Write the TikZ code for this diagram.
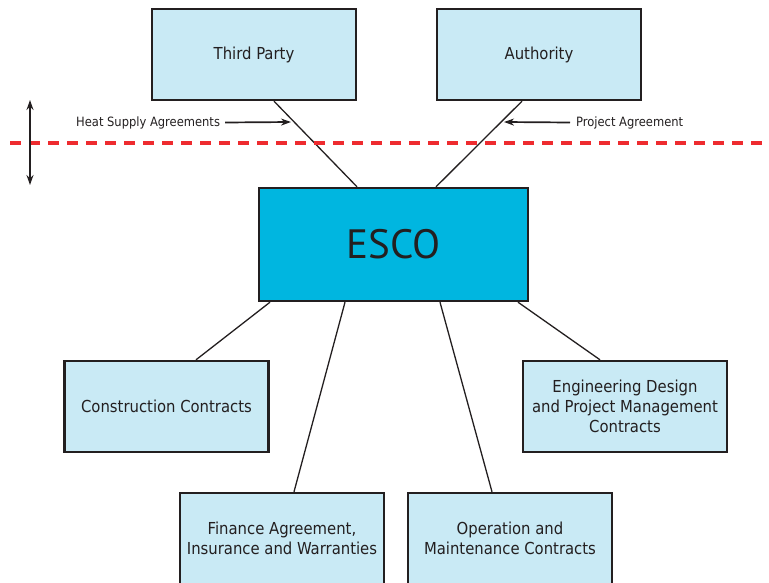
\documentclass[tikz,border=0pt]{standalone}
\usepackage{fontspec}
\setmainfont{DejaVu Sans Condensed}
\newfontfamily\titlefont{PT Sans}
\usetikzlibrary{arrows.meta}
\definecolor{boxfill}{HTML}{C9EAF5}
\definecolor{escofill}{HTML}{00B6E0}
\definecolor{ink}{HTML}{231F20}
\definecolor{cutred}{HTML}{EE2B2F}
\begin{document}
\begin{tikzpicture}[x=1pt,y=-1pt,
  partybox/.style={draw=ink,line width=2.4pt,fill=boxfill,minimum width=204pt,minimum height=91pt,
    align=center,font=\fontsize{16.5}{20}\selectfont,text=ink,inner sep=0pt},
  link/.style={draw=ink,line width=1.3pt},
  notelabel/.style={font=\fontsize{12.8}{14}\selectfont,text=ink,inner sep=0pt},
  pointer/.style={draw=ink,line width=1.7pt,-{Stealth[length=10pt,width=7pt]}}]
\useasboundingbox (0,0) rectangle (769,583);
% parties above the ESCO
\node[partybox] (tp) at (254,54.5) {Third Party};
\node[partybox] (auth) at (539,54.5) {Authority};
% the ESCO
\node[draw=ink,line width=2.4pt,fill=escofill,minimum width=269pt,minimum height=113pt,
  inner sep=0pt,font=\titlefont\fontsize{41}{48}\selectfont,text=ink] (esco) at (393.5,244.5) {ESCO};
% contracts below the ESCO
\node[partybox] (constr) at (166.5,406.5) {Construction Contracts};
\node[partybox] (eng) at (625,406.5) {Engineering Design\\and Project Management\\Contracts};
\node[partybox] (fin) at (282,538.5) {Finance Agreement,\\Insurance and Warranties};
\node[partybox] (om) at (510,538.5) {Operation and\\Maintenance Contracts};
% links
\draw[link] ([xshift=20pt]tp.south) -- ([xshift=-36.5pt]esco.north);
\draw[link] ([xshift=-17pt]auth.south) -- ([xshift=42.5pt]esco.north);
\draw[link] ([xshift=-123.5pt]esco.south) -- ([xshift=29.5pt]constr.north);
\draw[link] ([xshift=-48.5pt]esco.south) -- ([xshift=12pt]fin.north);
\draw[link] ([xshift=46.5pt]esco.south) -- ([xshift=-18pt]om.north);
\draw[link] ([xshift=124.5pt]esco.south) -- ([xshift=-25pt]eng.north);
% boundary line and its arrow
\draw[cutred,line width=3.4pt,dash pattern=on 11pt off 8pt] (10,143) coordinate (cutL) -- (769,143) coordinate (cutR);
\coordinate (spanTop) at (30,100);
\coordinate (spanBot) at (30,185);
\draw[draw=ink,line width=1.5pt,{Stealth[length=10pt,width=7pt]}-{Stealth[length=10pt,width=7pt]}] (spanTop) -- (spanBot);
% agreement labels
\node[notelabel,anchor=west] (hsa) at (76,122.5) {Heat Supply Agreements};
\coordinate (hsaTip) at (291,122);
\draw[pointer] ([xshift=5pt]hsa.east) -- (hsaTip);
\node[notelabel,anchor=west] (pa) at (576,122.5) {Project Agreement};
\coordinate (paTip) at (504,122);
\draw[pointer] ([xshift=-6pt]pa.west) -- (paTip);
\end{tikzpicture}
\end{document}
